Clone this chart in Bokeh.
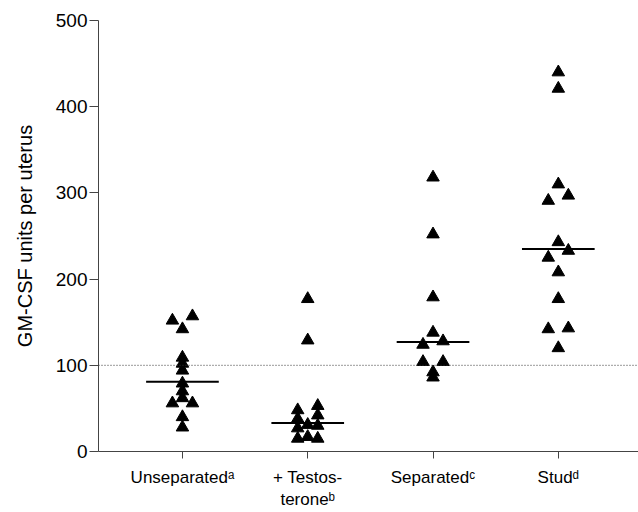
from bokeh.plotting import figure
from bokeh.models import Range1d, FixedTicker, Span, ColumnDataSource
from bokeh.embed import file_html
from bokeh.resources import INLINE

# ---- data ----
categories = ["Unseparatedᵃ", "+ Testos-\nteroneᵇ", "Separatedᶜ", "Studᵈ"]

unseparated = [157, 152, 142, 109, 102, 94, 79, 70, 62, 56, 56, 40, 28]
unseparated_col = [1, -1, 0, 0, 0, 0, 0, 0, 0, -1, 1, 0, 0]

testosterone = [177, 129, 53, 48, 42, 38, 31, 30, 27, 17, 15, 15]
testosterone_col = [0, 0, 1, -1, 1, -1, 0, 1, -1, 0, -1, 1]

separated = [318, 252, 179, 138, 128, 124, 104, 104, 92, 86]
separated_col = [0, 0, 0, 0, 1, -1, -1, 1, 0, 0]

stud = [440, 421, 310, 297, 291, 243, 233, 225, 208, 177, 143, 142, 120]
stud_col = [0, 0, 0, 1, -1, 0, 1, -1, 0, 0, 1, -1, 0]

medians = [81, 33, 127, 235]
reference_level = 100
y_ticks = [0, 100, 200, 300, 400, 500]

groups = [unseparated, testosterone, separated, stud]
group_cols = [unseparated_col, testosterone_col, separated_col, stud_col]

FONT = "Liberation Sans"
SPREAD = 0.08
HALF = 0.29

p = figure(width=638, height=512,
           x_range=Range1d(0.33, 4.64), y_range=Range1d(0, 500),
           output_backend="svg", toolbar_location=None,
           min_border_left=98, min_border_right=0,
           min_border_top=20, min_border_bottom=61)
p.outline_line_color = None
p.xgrid.visible = False
p.ygrid.visible = False
p.background_fill_color = "white"
p.border_fill_color = "white"

# points
xs, ys = [], []
for i, (vals, cols) in enumerate(zip(groups, group_cols)):
    for v, c in zip(vals, cols):
        xs.append(i + 1 + c * SPREAD)
        ys.append(v)
src = ColumnDataSource(dict(x=xs, y=ys))

# reference dotted line
p.add_layout(Span(location=reference_level, dimension="width",
                  line_color="#333333", line_width=1, line_dash="1 2"))

p.scatter("x", "y", source=src, marker="triangle", size=12.5,
          fill_color="black", line_color="black")

# medians
mx = [i + 1 for i in range(len(medians))]
p.segment(x0=[m - HALF for m in mx], x1=[m + HALF for m in mx],
          y0=medians, y1=medians, line_color="black", line_width=2)

# y axis
ya = p.yaxis[0]
ya.ticker = FixedTicker(ticks=y_ticks)
ya.minor_tick_line_color = None
ya.major_tick_out = 9
ya.major_tick_in = 0
ya.axis_line_color = "#444444"
ya.major_tick_line_color = "#444444"
ya.major_label_text_font = FONT
ya.major_label_text_font_size = "19px"
ya.major_label_text_color = "black"
ya.major_label_standoff = 2
ya.axis_label = "GM-CSF units per uterus"
ya.axis_label_text_font = FONT
ya.axis_label_text_font_size = "20px"
ya.axis_label_text_font_style = "normal"
ya.axis_label_text_color = "black"
ya.axis_label_standoff = 17

# x axis with category labels
xa = p.xaxis[0]
xa.ticker = FixedTicker(ticks=[1, 2, 3, 4])
xa.major_label_overrides = {i + 1: c for i, c in enumerate(categories)}
xa.minor_tick_line_color = None
xa.major_tick_out = 7
xa.major_tick_in = 0
xa.axis_line_color = "#444444"
xa.major_tick_line_color = "#444444"
xa.major_label_text_font = FONT
xa.major_label_text_font_size = "17px"
xa.major_label_text_color = "black"
xa.major_label_standoff = 9

open("out.html", "w").write(file_html(p, INLINE))
